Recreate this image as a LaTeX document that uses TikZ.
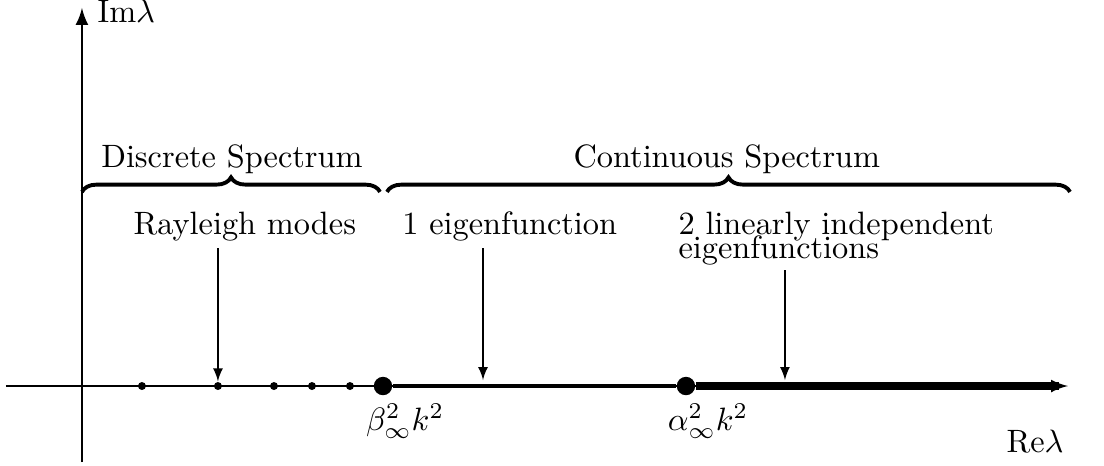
\documentclass[tikz,border=0pt]{standalone}
\usepackage{amsmath}
\usepackage{amssymb}
\usetikzlibrary{arrows,positioning,calc,decorations.pathreplacing}

\begin{document}
\begin{tikzpicture}[font=\normalsize,
    dotsmall/.style={circle, fill, inner sep=0pt, minimum size=2.6mm/3},
    dotbig/.style={circle, fill, inner sep=0pt, minimum size=2mm},
    spectrumbrace/.style={decoration={brace,amplitude=4.5pt},decorate,line width=1.2pt}]
    \useasboundingbox (-0.891,-0.859) rectangle (11.109,4.196);

    % Axes
    \coordinate (xl) at (-0.826,0);
    \coordinate (xr) at (10.717,0);
    \coordinate (xe) at (10.62,0);
    \coordinate (yb) at (0,-0.826);
    \coordinate (yt) at (0,4.109);
    \draw[thick, -latex] (yb) -- (yt);
    \draw[thick, -latex] (xl) -- (xr);
    \node[anchor=west, inner sep=0pt] (im) at (0.163,4.07) {Im$\lambda$};
    \node (re) at (10.36,-0.6) {Re$\lambda$};

    % Continuous spectrum
    \node[dotbig] (beta) at (3.272,0) {};
    \node[dotbig] (alpha) at (6.565,0) {};
    \draw[line width=1.5pt] (beta) -- (alpha);
    \draw[line width=2.3pt] (alpha) -- (xe);
    \node[below=0.5mm of beta, xshift=2.4mm, inner sep=1pt] (betalab) {$\beta_\infty^2k^2$};
    \node[below=0.5mm of alpha, xshift=2.4mm, inner sep=1pt] (alphalab) {$\alpha_\infty^2k^2$};

    % Rayleigh modes (discrete)
    \foreach \x [count=\i] in {0.652,1.478,2.087,2.5,2.913} {
        \node[dotsmall] (d\i) at (\x,0) {};
    }

    % Braces
    \draw[spectrumbrace] (0,2.11) -- (3.24,2.11);
    \draw[spectrumbrace] (3.315,2.11) -- (10.74,2.11);
    \node (disc) at (1.63,2.46) {Discrete Spectrum};
    \node (cont) at (7.01,2.46) {Continuous Spectrum};

    % Labels with arrows
    \node (ray) at (1.77,1.73) {Rayleigh modes};
    \node (one) at (4.65,1.73) {1 eigenfunction};
    \node[anchor=north west, align=left, inner sep=0pt] (two) at (6.478,1.9)
        {2 linearly independent\\[-4.5pt]eigenfunctions};
    \coordinate (raytop) at (1.478,1.5);
    \coordinate (onetop) at (4.359,1.5);
    \coordinate (onebot) at (4.359,0.065);
    \coordinate (twotop) at (7.641,1.26);
    \coordinate (twobot) at (7.641,0.065);
    \draw[-latex] (raytop) -- (d2);
    \draw[-latex] (onetop) -- (onebot);
    \draw[-latex] (twotop) -- (twobot);
\end{tikzpicture}
\end{document}
